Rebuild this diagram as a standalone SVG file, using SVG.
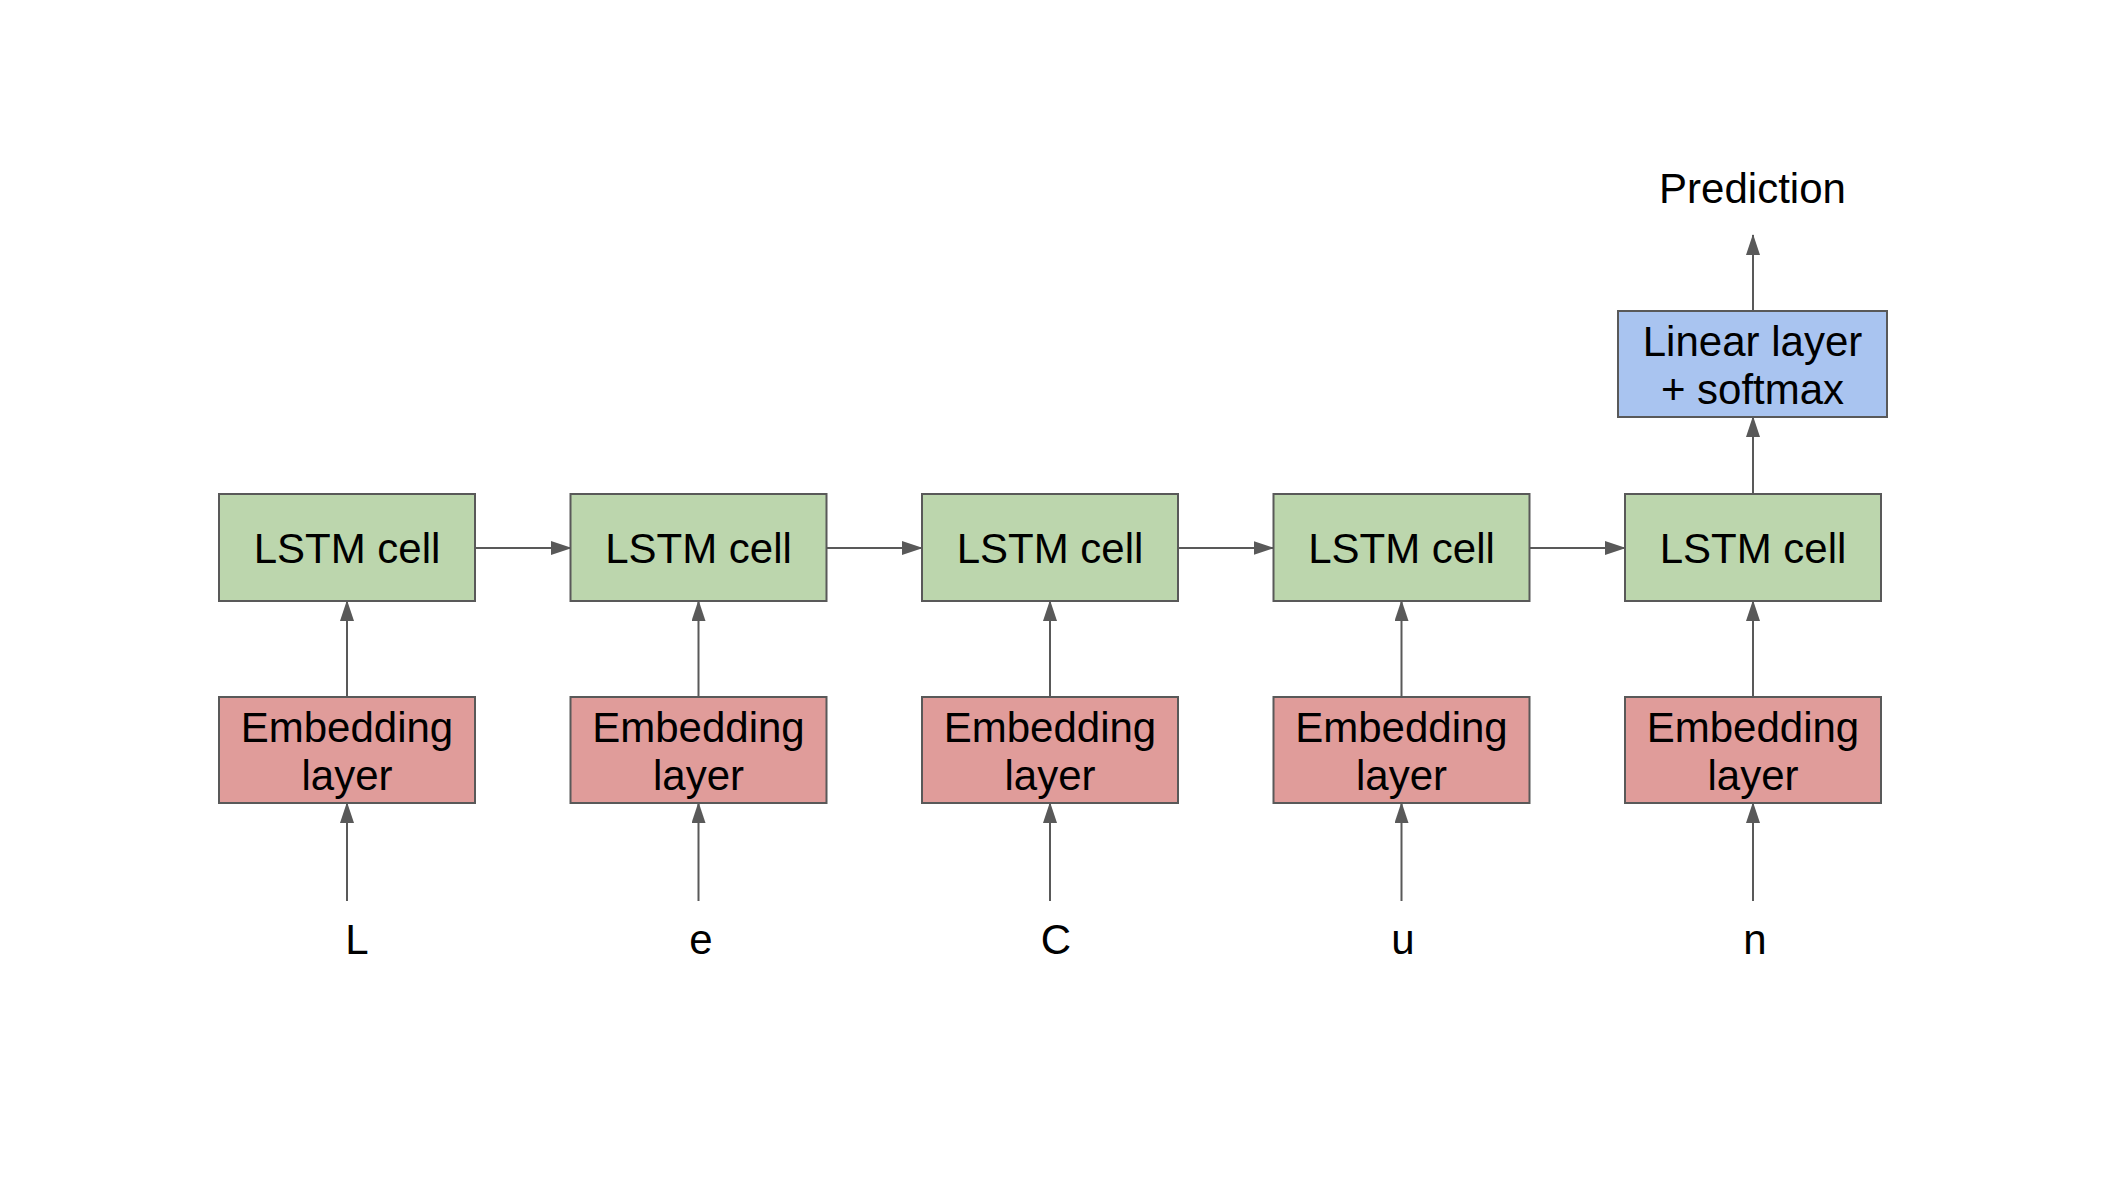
<svg xmlns="http://www.w3.org/2000/svg" width="2110" height="1180" viewBox="0 0 2110 1180">
<style>
.box{stroke:#595959;stroke-width:2}
.lstm{fill:#bcd6ad}
.emb{fill:#e09c9a}
.lin{fill:#a9c4f0}
.t{font-family:"Liberation Sans",Arial,sans-serif;font-size:42px;fill:#000;text-anchor:middle}
.c{stroke:#595959;stroke-width:2;fill:none;marker-end:url(#ah)}
</style>
<defs>
<marker id="ah" viewBox="0 0 21 14" markerWidth="21" markerHeight="14" refX="20" refY="7" markerUnits="userSpaceOnUse" orient="auto">
<path d="M0,0 L21,7 L0,14 Z" fill="#595959"/>
</marker>
</defs>
<rect width="2110" height="1180" fill="#fff"/>
<g id="connectors">
<line class="c" x1="475" y1="548" x2="571" y2="548"/>
<line class="c" x1="826.5" y1="548" x2="922" y2="548"/>
<line class="c" x1="1178" y1="548" x2="1273.5" y2="548"/>
<line class="c" x1="1529.5" y1="548" x2="1625" y2="548"/>
<line class="c" x1="347" y1="697" x2="347" y2="601"/>
<line class="c" x1="698.5" y1="697" x2="698.5" y2="601"/>
<line class="c" x1="1050" y1="697" x2="1050" y2="601"/>
<line class="c" x1="1401.5" y1="697" x2="1401.5" y2="601"/>
<line class="c" x1="1753" y1="697" x2="1753" y2="601"/>
<line class="c" x1="347" y1="901" x2="347" y2="803"/>
<line class="c" x1="698.5" y1="901" x2="698.5" y2="803"/>
<line class="c" x1="1050" y1="901" x2="1050" y2="803"/>
<line class="c" x1="1401.5" y1="901" x2="1401.5" y2="803"/>
<line class="c" x1="1753" y1="901" x2="1753" y2="803"/>
<line class="c" x1="1753" y1="494" x2="1753" y2="417"/>
<line class="c" x1="1753" y1="311" x2="1753" y2="235"/>
</g>
<g id="lstm1"><rect class="box lstm" x="219" y="494" width="256" height="107"/><text class="t" x="347" y="563">LSTM cell</text></g>
<g id="lstm2"><rect class="box lstm" x="570.5" y="494" width="256" height="107"/><text class="t" x="698.5" y="563">LSTM cell</text></g>
<g id="lstm3"><rect class="box lstm" x="922" y="494" width="256" height="107"/><text class="t" x="1050" y="563">LSTM cell</text></g>
<g id="lstm4"><rect class="box lstm" x="1273.5" y="494" width="256" height="107"/><text class="t" x="1401.5" y="563">LSTM cell</text></g>
<g id="lstm5"><rect class="box lstm" x="1625" y="494" width="256" height="107"/><text class="t" x="1753" y="563">LSTM cell</text></g>
<g id="emb1"><rect class="box emb" x="219" y="697" width="256" height="106"/><text class="t" x="347" y="742">Embedding</text><text class="t" x="347" y="790">layer</text></g>
<g id="emb2"><rect class="box emb" x="570.5" y="697" width="256" height="106"/><text class="t" x="698.5" y="742">Embedding</text><text class="t" x="698.5" y="790">layer</text></g>
<g id="emb3"><rect class="box emb" x="922" y="697" width="256" height="106"/><text class="t" x="1050" y="742">Embedding</text><text class="t" x="1050" y="790">layer</text></g>
<g id="emb4"><rect class="box emb" x="1273.5" y="697" width="256" height="106"/><text class="t" x="1401.5" y="742">Embedding</text><text class="t" x="1401.5" y="790">layer</text></g>
<g id="emb5"><rect class="box emb" x="1625" y="697" width="256" height="106"/><text class="t" x="1753" y="742">Embedding</text><text class="t" x="1753" y="790">layer</text></g>
<g id="linear"><rect class="box lin" x="1618" y="311" width="269" height="106"/><text class="t" x="1752.5" y="356">Linear layer</text><text class="t" x="1752.5" y="404">+ softmax</text></g>
<g id="prediction"><text class="t" x="1752.5" y="203">Prediction</text></g>
<g id="in-L"><text class="t" x="357" y="954">L</text></g>
<g id="in-e"><text class="t" x="701" y="954">e</text></g>
<g id="in-C"><text class="t" x="1056" y="954">C</text></g>
<g id="in-u"><text class="t" x="1403" y="954">u</text></g>
<g id="in-n"><text class="t" x="1755" y="954">n</text></g>
</svg>
